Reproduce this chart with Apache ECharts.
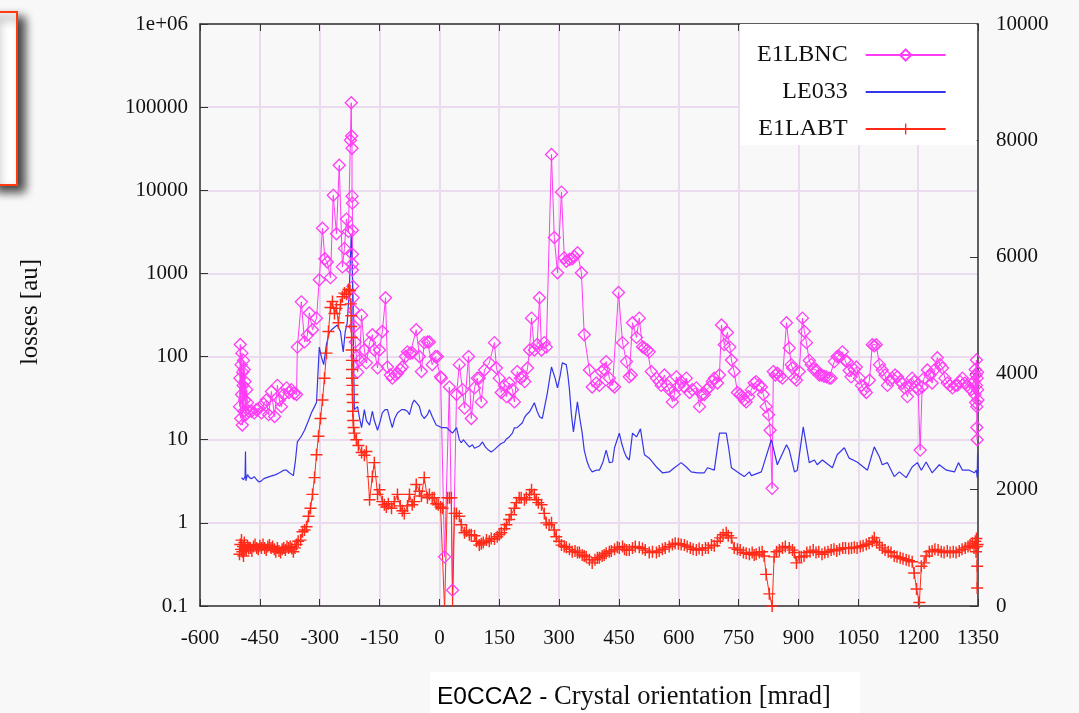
<!DOCTYPE html>
<html>
<head>
<meta charset="utf-8">
<title>E0CCA2 crystal orientation scan</title>
<script src="https://cdn.jsdelivr.net/npm/echarts@6/dist/echarts.min.js"></script>
<style>
  html, body { margin: 0; padding: 0; background: #f8f8f8; }
  #main { width: 1079px; height: 713px; }
</style>
</head>
<body>
<div id="main"></div>
<script>
// x ticks (mrad) and log-axis ticks
var xTicks = [-600, -450, -300, -150, 0, 150, 300, 450, 600, 750, 900, 1050, 1200, 1350];
var logTicks = [0.1, 1, 10, 100, 1000, 10000, 100000, 1000000];
var rightTicks = [0, 2000, 4000, 6000, 8000, 10000];

// [crystal orientation, losses]
var e1lbnc = [
  [-501,25],[-500,55],[-499,140],[-498,18],[-497,80],[-496,35],[-495,110],[-494,15],[-493,65],[-492,45],
  [-491,90],[-490,22],[-489,70],[-488,30],[-487,50],[-485,20],[-483,40],[-481,28],[-478,22],
  [-471,22],[-464,21],[-459,23],[-452,24],[-446,21],[-440,27],[-434,30],[-428,20],[-421,38],[-413,19],
  [-406,45],[-401,30],[-396,25],[-390,35],[-383,42],[-377,37],[-371,40],[-364,36],[-358,35],[-356,130],
  [-346,455],[-338,150],[-331,180],[-326,335],[-318,210],[-308,290],[-301,840],[-293,3500],[-287,1500],
  [-281,1370],[-273,890],[-266,8700],[-258,3000],[-251,20000],[-243,1200],[-238,2000],[-233,4500],
  [-228,3200],[-223,40000],[-221,113000],[-220,45000],[-219,32000],[-219,8500],[-218,7000],[-218,3300],
  [-218,1700],[-218,1300],[-218,1100],[-217,700],[-216,510],[-215,360],[-213,230],[-211,150],[-208,100],
  [-205,65],[-200,90],[-195,315],[-188,120],[-183,84],[-175,147],[-168,183],[-163,120],[-155,73],
  [-150,120],[-143,200],[-135,510],[-130,75],[-123,60],[-118,55],[-110,60],[-105,63],[-98,70],[-93,75],
  [-85,100],[-80,114],[-73,110],[-68,111],[-58,210],[-50,100],[-45,66],[-38,147],[-30,150],[-25,150],
  [-18,80],[-10,100],[-5,100],[3,57],[5,55],[13,0.39],[25,43],[33,0.155],[43,35],[50,80],[58,40],
  [63,24],[73,100],[80,18],[88,42],[95,55],[100,55],[105,28.5],[113,69],[125,84],[138,147],[143,73],
  [150,55],[155,37],[163,45],[168,33],[175,48],[183,40],[188,28.5],[195,66],[203,55],[208,57],[214,50],
  [221,73],[226,120],[231,290],[238,120],[245,140],[251,510],[256,120],[263,147],[268,130],[281,27000],
  [288,2700],[296,1020],[306,9500],[313,1540],[318,1400],[326,1470],[333,1500],[338,1600],[346,1770],
  [356,1020],[363,183],[376,69],[383,43],[393,48],[401,45],[406,66],[413,70],[418,87],[426,55],[434,45],
  [439,43],[449,590],[459,147],[469,87],[476,57],[481,60],[484,255],[494,170],[501,290],[509,131],
  [514,127],[521,120],[526,114],[531,66],[544,55],[551,50],[556,45],[564,60],[571,45],[576,40],
  [584,28.5],[589,35],[594,57],[601,45],[606,50],[614,43],[619,55],[627,37],[634,40],[644,42],[652,25],
  [658,35],[664,35],[670,40],[677,43],[684,50],[689,55],[697,48],[702,60],[707,240],[714,139],[722,195],
  [728,130],[732,91],[739,66],[747,37],[754,35],[759,33],[764,30],[769,28.5],[775,33],[782,40],[789,48],
  [794,50],[801,45],[807,43],[812,35],[819,25],[825,20],[829,13],[834,2.6],[837,66],[842,60],[847,63],
  [854,58],[860,55],[870,255],[877,127],[882,80],[885,73],[890,55],[895,52],[902,66],[910,290],[915,200],
  [920,147],[927,90],[932,80],[938,70],[945,69],[952,60],[957,60],[964,58],[970,57],[977,55],[982,55],
  [990,87],[997,100],[1002,100],[1010,114],[1017,90],[1022,87],[1027,68],[1032,57],[1040,70],[1045,75],
  [1053,55],[1058,45],[1065,40],[1070,37],[1078,52],[1085,139],[1090,135],[1095,139],[1103,80],
  [1110,69],[1117,60],[1123,45],[1130,52],[1135,55],[1142,60],[1148,57],[1155,50],[1160,48],[1166,42],
  [1173,33],[1180,45],[1185,55],[1190,50],[1195,43],[1200,40],[1205,7.5],[1210,43],[1215,55],[1223,69],
  [1230,60],[1235,48],[1242,70],[1248,97],[1255,80],[1261,73],[1267,55],[1273,48],[1280,45],[1286,42],
  [1293,45],[1298,45],[1305,50],[1311,55],[1317,48],[1323,45],[1328,42],[1333,40],[1337,48],[1340,50],
  [1342,35],[1343,70],[1344,28],[1345,60],[1346,91],[1346,45],[1347,25],[1347,14],[1348,10],[1348,55],
  [1349,40],[1349,65],[1350,30]
];

var le033 = [
  [-496,3.5],[-491,3.3],[-489,3.2],[-487,3.6],[-486,7.2],[-485,3.2],[-481,3.8],[-476,3.5],[-470,3.4],
  [-464,3.6],[-458,3.3],[-452,3.1],[-446,3.2],[-440,3.4],[-433,3.5],[-426,3.6],[-418,3.7],[-410,3.8],
  [-401,4.0],[-396,4.1],[-390,4.3],[-383,4.3],[-376,4.0],[-371,3.8],[-366,3.7],[-361,5.5],[-356,9.4],
  [-346,11],[-338,13],[-328,17],[-321,21],[-313,25],[-308,28],[-301,130],[-296,100],[-290,80],[-283,140],
  [-276,195],[-268,215],[-256,240],[-248,200],[-241,114],[-236,200],[-231,255],[-226,600],[-221,2900],
  [-218,1000],[-216,200],[-213,23],[-205,25],[-200,18],[-195,14],[-188,23],[-183,17],[-175,15],[-168,22],
  [-163,17],[-155,13],[-148,17],[-143,21],[-136,23],[-130,23],[-123,17],[-118,14],[-112,18],[-105,21],
  [-95,23],[-88,23],[-80,22],[-75,20],[-68,27],[-63,30],[-55,27],[-50,25],[-45,20],[-38,18],[-30,20],
  [-25,23],[-18,19],[-8,15],[5,14],[18,14],[25,13],[33,12],[38,12.5],[43,14],[50,10],[55,9.2],[60,10],
  [68,9],[75,8.2],[83,8.7],[88,7.9],[93,7.5],[100,8.4],[108,9.4],[115,8.2],[123,7.5],[130,7.1],[138,7.6],
  [145,8.2],[155,9],[163,9.4],[168,10.2],[175,10.8],[183,12],[188,13.9],[195,14],[200,14.3],[208,16],
  [213,18.3],[218,20],[226,21.7],[231,24],[238,27.8],[245,22],[251,18.9],[258,18],[263,18.9],[270,35],
  [281,75],[290,55],[296,42],[303,60],[308,84],[318,80],[322,60],[326,40],[331,20],[336,12.4],[346,28.5],
  [352,18],[358,12],[363,7.5],[370,5.5],[376,4.6],[383,4.1],[393,4.3],[401,4.3],[410,5.4],[418,7.5],
  [426,5.3],[434,5.4],[439,8],[451,12],[457,9],[464,7],[469,6.2],[476,5.7],[484,12],[494,10.8],[504,13.5],
  [514,6.6],[526,6],[544,4.7],[559,4],[576,4.1],[589,4.6],[606,5.3],[619,4.7],[631,4.1],[647,4],[664,4],
  [672,4.6],[689,4.3],[702,12],[719,12],[725,8],[732,4.6],[747,4.1],[764,3.6],[777,4.1],[782,3.7],
  [789,3.8],[807,4.1],[832,10],[847,5],[870,8.7],[877,7.5],[890,4.1],[897,4.3],[912,14.3],[927,5.3],
  [940,5.7],[947,5],[960,5.7],[985,4.6],[997,6.6],[1015,8],[1027,6],[1047,5.4],[1073,4.3],[1090,8.2],
  [1103,6.2],[1110,5],[1123,5.3],[1140,3.6],[1153,4.1],[1170,3.5],[1185,4.7],[1198,5.3],[1208,4.3],
  [1220,5.4],[1235,4],[1253,5],[1271,4.3],[1291,4.1],[1301,5.3],[1311,4.3],[1328,4.3],[1341,4],
  [1346,4.3],[1348,3.5],[1349,7],[1350,4]
];

var e1labt = [
  [-501,0.42],[-499,0.55],[-497,0.48],[-496,0.62],[-494,0.45],[-492,0.52],[-491,0.4],[-489,0.58],
  [-487,0.5],[-484,0.47],[-481,0.53],[-478,0.49],[-474,0.5],[-470,0.46],[-466,0.52],[-462,0.55],
  [-458,0.5],[-454,0.48],[-450,0.53],[-446,0.5],[-442,0.55],[-438,0.5],[-434,0.47],[-430,0.52],
  [-426,0.54],[-422,0.5],[-418,0.52],[-414,0.48],[-410,0.45],[-406,0.5],[-402,0.46],[-398,0.44],
  [-394,0.48],[-390,0.5],[-386,0.47],[-382,0.52],[-378,0.5],[-374,0.52],[-370,0.49],[-366,0.45],
  [-362,0.5],[-358,0.55],[-354,0.6],[-348,0.62],[-343,0.78],[-338,0.82],[-333,0.9],[-328,1.2],
  [-323,1.5],[-318,2.2],[-313,3.5],[-308,6.6],[-303,11],[-298,18],[-293,30],[-288,55],[-283,110],
  [-278,200],[-273,390],[-268,460],[-263,330],[-258,380],[-253,255],[-248,420],[-243,525],[-238,580],
  [-233,560],[-228,640],[-224,620],[-222,430],[-221,310],[-221,230],[-220,170],[-220,120],[-219,90],
  [-219,70],[-219,55],[-218,45],[-218,35],[-217,28],[-217,22],[-216,17],[-215,14],[-213,12],[-208,10],
  [-203,8.5],[-195,7],[-188,6.5],[-183,7.2],[-175,1.9],[-168,3.6],[-163,5.3],[-155,2.2],[-150,2.5],
  [-143,1.8],[-138,1.65],[-133,1.55],[-128,1.7],[-120,1.5],[-113,1.8],[-105,2.2],[-98,1.6],[-93,1.4],
  [-88,1.3],[-80,1.6],[-75,2.2],[-68,1.65],[-63,1.8],[-58,2.9],[-50,2.4],[-45,2.1],[-38,3.5],[-30,2],
  [-25,2.2],[-18,2.0],[-13,2],[-8,1.7],[-3,1.65],[3,1.55],[8,1.5],[13,0.09],[20,2.0],[25,2.0],[30,2.0],
  [33,0.09],[38,1.3],[43,1.3],[50,1.2],[55,0.95],[63,0.76],[68,0.8],[75,0.72],[80,0.72],[88,0.7],
  [93,0.6],[100,0.54],[105,0.56],[110,0.58],[118,0.62],[125,0.6],[130,0.65],[138,0.64],[145,0.68],
  [150,0.72],[155,0.76],[163,0.85],[168,0.95],[175,1.1],[180,1.25],[188,1.5],[193,1.75],[200,2.0],
  [205,2.0],[213,1.9],[218,2.0],[226,2.2],[231,2.5],[238,2.2],[243,1.9],[248,1.75],[256,1.65],[263,1.3],
  [268,1.0],[275,0.95],[281,1.0],[288,0.82],[293,0.68],[300,0.6],[306,0.54],[313,0.52],[318,0.51],
  [326,0.48],[333,0.45],[340,0.46],[346,0.44],[351,0.44],[358,0.41],[363,0.4],[368,0.39],[376,0.36],
  [383,0.33],[390,0.36],[396,0.38],[401,0.38],[408,0.4],[413,0.41],[418,0.43],[426,0.45],[431,0.46],
  [439,0.48],[446,0.51],[451,0.5],[459,0.52],[464,0.48],[469,0.47],[476,0.47],[484,0.5],[491,0.52],
  [501,0.51],[509,0.49],[516,0.47],[526,0.44],[534,0.45],[544,0.44],[551,0.46],[559,0.48],[566,0.5],
  [576,0.52],[584,0.55],[591,0.57],[599,0.56],[606,0.55],[614,0.54],[621,0.52],[629,0.5],[636,0.48],
  [644,0.47],[651,0.49],[659,0.47],[667,0.5],[674,0.5],[682,0.54],[689,0.53],[697,0.6],[704,0.66],
  [711,0.72],[719,0.76],[724,0.7],[732,0.66],[739,0.5],[747,0.48],[754,0.47],[762,0.44],[769,0.43],
  [777,0.42],[784,0.44],[789,0.41],[794,0.42],[802,0.44],[809,0.45],[814,0.4],[819,0.24],[827,0.14],
  [834,0.1],[839,0.39],[845,0.45],[852,0.47],[860,0.5],[867,0.52],[877,0.5],[885,0.47],[890,0.44],
  [895,0.33],[902,0.39],[907,0.39],[914,0.4],[921,0.44],[929,0.45],[937,0.47],[944,0.44],[951,0.45],
  [959,0.42],[966,0.44],[974,0.45],[982,0.47],[989,0.48],[996,0.46],[1003,0.48],[1011,0.5],[1018,0.5],
  [1026,0.49],[1033,0.5],[1040,0.51],[1047,0.5],[1055,0.52],[1062,0.53],[1070,0.55],[1077,0.57],
  [1085,0.6],[1090,0.66],[1096,0.58],[1103,0.54],[1110,0.5],[1117,0.47],[1125,0.45],[1132,0.44],
  [1140,0.4],[1147,0.39],[1155,0.38],[1162,0.37],[1170,0.36],[1177,0.35],[1185,0.34],[1190,0.25],
  [1196,0.16],[1203,0.11],[1208,0.3],[1215,0.33],[1220,0.4],[1228,0.45],[1235,0.46],[1242,0.48],
  [1250,0.47],[1258,0.45],[1265,0.44],[1273,0.46],[1280,0.44],[1288,0.45],[1295,0.44],[1303,0.46],
  [1310,0.48],[1318,0.5],[1325,0.52],[1330,0.54],[1336,0.57],[1340,0.5],[1343,0.6],[1345,0.45],
  [1346,0.65],[1347,0.52],[1348,0.3],[1348,0.165],[1349,0.55]
];

var serif = '"Liberation Serif", "DejaVu Serif", serif';
var sans = '"Liberation Sans", Arial, sans-serif';
var gridColor = '#eadbef';
var plusPath = 'path://M4.4,0h1.2v4.4h4.4v1.2h-4.4v4.4h-1.2v-4.4h-4.4v-1.2h4.4z';

var chart = echarts.init(document.getElementById('main'));

var option = {
  backgroundColor: '#f8f8f8',
  animation: false,
  grid: { left: 200, right: 101, top: 24, bottom: 107 },
  legend: {
    orient: 'vertical',
    left: 740,
    top: 24,
    padding: [19, 30, 4, 17],
    backgroundColor: '#ffffff',
    itemWidth: 80,
    itemHeight: 14,
    itemGap: 13,
    align: 'right',
    selectedMode: false,
    textStyle: { fontFamily: serif, fontSize: 24, color: '#111', width: 90, align: 'right', padding: [0, 13, 0, 0] },
    data: ['E1LBNC', { name: 'LE033', itemStyle: { opacity: 0 } }, 'E1LABT']
  },
  xAxis: [{
    type: 'value',
    min: -600, max: 1350, interval: 150,
    position: 'bottom',
    axisLine: { show: true, onZero: false, lineStyle: { color: '#333', width: 1.5 } },
    axisTick: { show: true, inside: true, length: 7, lineStyle: { color: '#333' } },
    axisLabel: { fontFamily: serif, fontSize: 21, color: '#111', margin: 22, formatter: function (v) { return String(v); } },
    splitLine: { show: true, lineStyle: { color: gridColor, width: 2 } }
  }, {
    type: 'value',
    min: -600, max: 1350, interval: 150,
    position: 'top',
    axisLine: { show: true, onZero: false, lineStyle: { color: '#333', width: 1.5 } },
    axisTick: { show: true, inside: true, length: 7, lineStyle: { color: '#333' } },
    axisLabel: { show: false },
    splitLine: { show: false }
  }],
  yAxis: [{
    type: 'log',
    logBase: 10,
    min: 0.1, max: 1000000,
    position: 'left',
    axisLine: { show: true, onZero: false, lineStyle: { color: '#333', width: 1.5 } },
    axisTick: { show: true, inside: true, length: 8, lineStyle: { color: '#333' } },
    axisLabel: {
      fontFamily: serif, fontSize: 21, color: '#111', margin: 12,
      formatter: function (v) {
        if (v < 0.5) return '0.1';
        if (v >= 999999) return '1e+06';
        return String(Math.round(v));
      }
    },
    splitLine: { show: true, lineStyle: { color: gridColor, width: 2 } }
  }, {
    type: 'value',
    min: 0, max: 10000, interval: 2000,
    position: 'right',
    axisLine: { show: true, onZero: false, lineStyle: { color: '#333', width: 1.5 } },
    axisTick: { show: true, inside: true, length: 8, lineStyle: { color: '#333' } },
    axisLabel: { fontFamily: serif, fontSize: 21, color: '#111', margin: 18, formatter: function (v) { return String(v); } },
    splitLine: { show: false }
  }],
  graphic: [
    {
      type: 'rect',
      shape: { x: -10, y: 12, width: 27, height: 173 },
      style: { fill: '#ffffff', stroke: '#ff3a10', lineWidth: 2, shadowBlur: 10, shadowOffsetX: 7, shadowOffsetY: 6, shadowColor: 'rgba(0,0,0,0.75)' },
      z: 10
    },
    {
      type: 'text',
      rotation: Math.PI / 2,
      x: 30, y: 312,
      style: { text: 'losses [au]', font: '25px ' + serif, fill: '#111', textAlign: 'center', textVerticalAlign: 'middle' }
    },
    {
      type: 'rect',
      shape: { x: 430, y: 672, width: 430, height: 45 },
      style: { fill: '#ffffff' }
    },
    {
      type: 'text',
      x: 437, y: 697,
      style: {
        text: '{a|E0CCA2 - }{b|Crystal orientation [mrad]}',
        textVerticalAlign: 'middle',
        rich: {
          a: { fontFamily: sans, fontSize: 24.5, fill: '#000' },
          b: { fontFamily: serif, fontSize: 26.5, fill: '#111' }
        }
      }
    }
  ],
  series: [{
    name: 'E1LBNC',
    type: 'line',
    data: e1lbnc,
    symbol: 'diamond',
    symbolSize: 12,
    lineStyle: { color: '#ff3cf5', width: 1 },
    itemStyle: { color: 'rgba(255,255,255,0)', borderColor: '#ff3cf5', borderWidth: 1.3 },
    emphasis: { disabled: true }
  }, {
    name: 'LE033',
    type: 'line',
    data: le033,
    symbol: 'none',
    lineStyle: { color: '#3535ea', width: 1.2 },
    itemStyle: { color: '#3535ea' },
    emphasis: { disabled: true }
  }, {
    name: 'E1LABT',
    type: 'line',
    data: e1labt,
    symbol: plusPath,
    symbolSize: 12,
    lineStyle: { color: '#ff2a18', width: 1 },
    itemStyle: { color: '#ff2a18' },
    emphasis: { disabled: true }
  }]
};

chart.setOption(option);
</script>
</body>
</html>
